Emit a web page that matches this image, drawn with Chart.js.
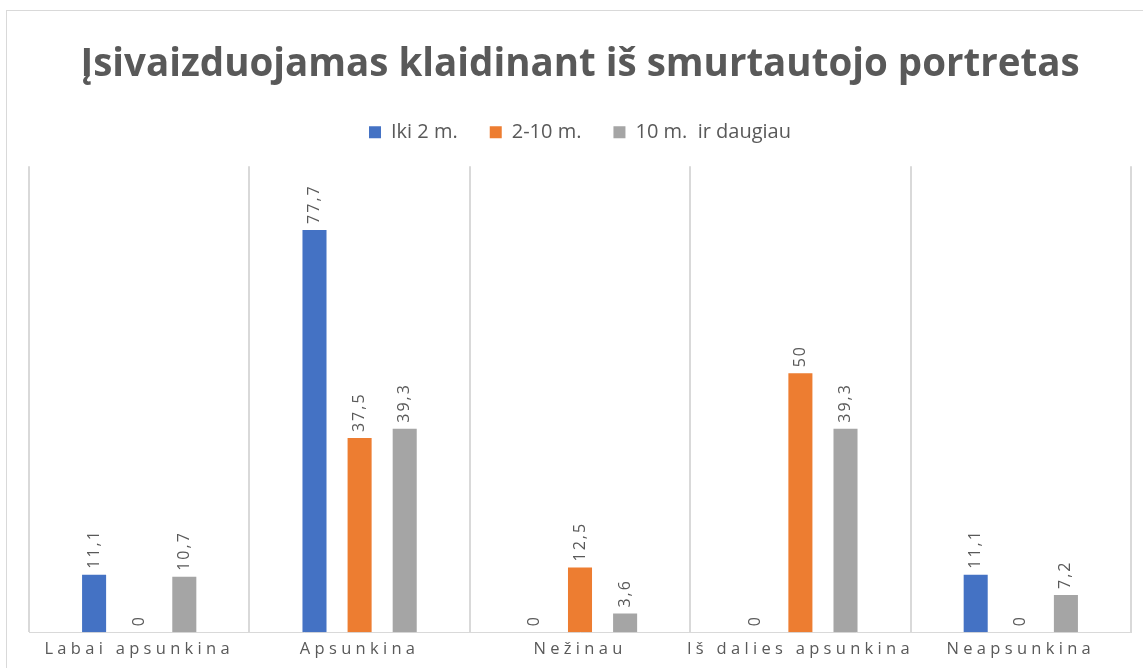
<!DOCTYPE html>
<html>
<head>
<meta charset="utf-8">
<script src="https://cdn.jsdelivr.net/npm/chart.js@4.4.0/dist/chart.umd.min.js"></script>
<style>
  body { margin: 0; background: #fff; }
  #wrap { position: relative; width: 1143px; height: 668px; overflow: hidden; }
  #frame { position: absolute; left: 6px; top: 10px; width: 1160px; height: 700px; border: 1px solid #d9d9d9; pointer-events: none; }
</style>
</head>
<body>
<div id="wrap">
  <canvas id="myChart" width="1143" height="668"></canvas>
  <div id="frame"></div>
</div>
<script>
const categories = ['Labai apsunkina', 'Apsunkina', 'Nežinau', 'Iš dalies apsunkina', 'Neapsunkina'];
const seriesNames = ['Iki 2 m.', '2-10 m.', '10 m.  ir daugiau'];
const iki2 = [11.1, 77.7, 0, 0, 11.1];
const nuo2iki10 = [0, 37.5, 12.5, 50, 0];
const virs10 = [10.7, 39.3, 3.6, 39.3, 7.2];
const colors = ['#4472C4', '#ED7D31', '#A5A5A5'];

const textColor = '#595959';
const fontFamily = "'Open Sans', 'DejaVu Sans', sans-serif";

// value labels written vertically above each bar
const barLabels = {
    id: 'barLabels',
    afterDatasetsDraw(chart) {
        const ctx = chart.ctx;
        chart.data.datasets.forEach(function (ds, i) {
            const meta = chart.getDatasetMeta(i);
            meta.data.forEach(function (bar, j) {
                const txt = String(ds.data[j]).replace('.', ',');
                ctx.save();
                ctx.translate(bar.x, bar.y - 6);
                ctx.rotate(-Math.PI / 2);
                ctx.font = '16px ' + fontFamily;
                ctx.letterSpacing = '2px';
                ctx.fillStyle = textColor;
                ctx.textAlign = 'left';
                ctx.textBaseline = 'middle';
                ctx.fillText(txt, 0, 0);
                ctx.restore();
            });
        });
    }
};

// spaced out category labels like the original
const spacedTicks = {
    id: 'spacedTicks',
    afterLayout(chart) {
        const sc = chart.scales.x;
        if (sc._spaced) return;
        const orig = sc.drawLabels.bind(sc);
        sc.drawLabels = function (area) {
            chart.ctx.save();
            chart.ctx.letterSpacing = '4.3px';
            orig(area);
            chart.ctx.restore();
        };
        sc._spaced = true;
    }
};

const data = {
    labels: categories,
    datasets: [
        { label: seriesNames[0], data: iki2, backgroundColor: colors[0] },
        { label: seriesNames[1], data: nuo2iki10, backgroundColor: colors[1] },
        { label: seriesNames[2], data: virs10, backgroundColor: colors[2] }
    ]
};

const config = {
    type: 'bar',
    data: data,
    plugins: [barLabels, spacedTicks],
    options: {
        responsive: false,
        animation: false,
        categoryPercentage: 0.614,
        barPercentage: 0.533,
        layout: { padding: { top: 42, left: 29, right: 12, bottom: 2 } },
        plugins: {
            title: {
                display: true,
                text: 'Įsivaizduojamas klaidinant iš smurtautojo portretas',
                color: textColor,
                font: { family: fontFamily, size: 38.5, weight: 'bold' },
                padding: { top: 0, bottom: 2 }
            },
            legend: {
                display: true,
                labels: {
                    color: textColor,
                    font: { family: fontFamily, size: 20 },
                    boxWidth: 12,
                    boxHeight: 12,
                    padding: 32
                }
            },
            tooltip: { enabled: false }
        },
        scales: {
            x: {
                grid: { display: true, offset: true, color: '#d9d9d9', lineWidth: 2, drawTicks: false },
                border: { display: true, color: '#d9d9d9', width: 1 },
                ticks: { color: textColor, font: { family: fontFamily, size: 16.5 }, padding: 7, maxRotation: 0 }
            },
            xTop: {
                position: 'top',
                type: 'category',
                labels: categories,
                display: true,
                grid: { display: false },
                border: { display: false },
                ticks: { display: false },
                afterFit: function (s) { s.height = 14; }
            },
            y: {
                display: false,
                min: 0,
                max: 90
            }
        }
    }
};

let myChart = new Chart(document.getElementById('myChart'), config);
</script>
</body>
</html>
